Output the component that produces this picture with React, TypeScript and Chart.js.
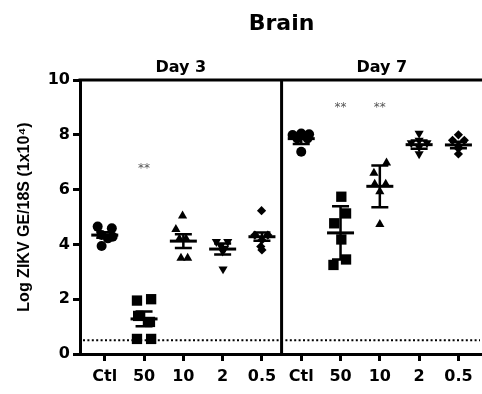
import React, { useEffect, useRef } from 'react';
import { Chart, registerables } from 'chart.js';

Chart.register(...registerables);

// ---- text ----
const chartTitle = 'Brain';
const dayLabels = ['Day 3', 'Day 7'];
const doseLabels = ['Ctl', '50', '10', '2', '0.5'];
const yAxisTitle = 'Log ZIKV GE/18S (1x10\u2074)';
const yTicks = [0, 2, 4, 6, 8, 10];
const detectionLimit = 0.5;

// ---- individual values (one list per dose group) ----
const day3Values = [
  [4.65, 4.59, 4.34, 4.28, 4.22, 3.94],
  [1.95, 2.0, 1.39, 1.17, 0.55, 0.55],
  [5.04, 4.55, 4.2, 4.2, 3.5, 3.5],
  [4.1, 4.1, 3.95, 3.85, 3.75, 3.1],
  [5.23, 4.34, 4.34, 4.16, 3.92, 3.8],
];
const day7Values = [
  [7.99, 8.05, 8.02, 7.87, 7.87, 7.38],
  [5.74, 5.13, 4.77, 4.18, 3.45, 3.25],
  [6.98, 6.6, 6.2, 6.2, 5.93, 4.73],
  [8.05, 7.8, 7.7, 7.7, 7.55, 7.3],
  [8.0, 7.8, 7.8, 7.6, 7.5, 7.3],
];
// horizontal scatter of the points within a group (category units)
const day3Jitter = [
  [-0.18, 0.18, -0.08, 0.2, 0.08, -0.08],
  [-0.18, 0.18, -0.15, 0.15, -0.18, 0.18],
  [-0.02, -0.19, -0.1, 0.07, -0.06, 0.11],
  [-0.16, 0.13, -0.05, 0.05, 0.0, 0.01],
  [-0.01, -0.18, 0.15, 0.0, -0.03, 0.0],
];
const day7Jitter = [
  [-0.22, 0.0, 0.2, -0.1, 0.16, 0.0],
  [0.02, 0.14, -0.16, 0.02, 0.14, -0.18],
  [0.17, -0.15, -0.13, 0.15, 0.0, 0.0],
  [0.0, 0.0, -0.2, 0.2, 0.0, 0.0],
  [0.0, -0.15, 0.15, 0.0, 0.0, 0.0],
];

// ---- mean and error bars ----
const day3Means = [4.34, 1.28, 4.12, 3.83, 4.28];
const day3Errors = [0.1, 0.27, 0.25, 0.2, 0.15];
const day7Means = [7.86, 4.42, 6.12, 7.64, 7.63];
const day7Errors = [0.2, 0.97, 0.76, 0.15, 0.12];

// ---- significance marks ----
const day3Sig = ['', '**', '', '', ''];
const day7Sig = ['', '**', '**', '', ''];
const day3SigHeight = [0, 6.75, 0, 0, 0];
const day7SigHeight = [0, 9.0, 9.0, 0, 0];

// ---- marker styles per dose ----
const markerStyles = ['circle', 'rect', 'triangle', 'triangle', 'rectRot'];
const markerRotation = [0, 0, 0, 180, 0];
const markerRadius = [5, 7.3, 5.3, 5.3, 4.6];

const allValues = [...day3Values, ...day7Values];
const allJitter = [...day3Jitter, ...day7Jitter];
const allMeans = [...day3Means, ...day7Means];
const allErrors = [...day3Errors, ...day7Errors];
const allSig = [...day3Sig, ...day7Sig];
const allSigHeight = [...day3SigHeight, ...day7SigHeight];
const xTickLabels = [...doseLabels, ...doseLabels];
const xPositions = xTickLabels.map((_, i) => i);

const BOLD = 'bold 16px "DejaVu Sans"';

const overlayPlugin = {
  id: 'prismOverlay',
  afterDatasetsDraw(chart: any) {
    const { ctx, chartArea } = chart;
    const x = chart.scales.x;
    const y = chart.scales.y;
    ctx.save();
    ctx.strokeStyle = '#000';
    ctx.fillStyle = '#000';

    // detection limit
    const yl = y.getPixelForValue(detectionLimit);
    ctx.lineWidth = 2;
    ctx.setLineDash([2, 2.4]);
    ctx.beginPath();
    ctx.moveTo(chartArea.left + 3, yl);
    ctx.lineTo(chartArea.right - 2, yl);
    ctx.stroke();
    ctx.setLineDash([]);

    // mean +/- error
    allMeans.forEach((m, i) => {
      const cx = x.getPixelForValue(i);
      const ym = y.getPixelForValue(m);
      const yt = y.getPixelForValue(m + allErrors[i]);
      const yb = y.getPixelForValue(m - allErrors[i]);
      ctx.lineWidth = 2.5;
      ctx.beginPath();
      ctx.moveTo(cx, yt);
      ctx.lineTo(cx, yb);
      ctx.moveTo(cx - 8.5, yt);
      ctx.lineTo(cx + 8.5, yt);
      ctx.moveTo(cx - 8.5, yb);
      ctx.lineTo(cx + 8.5, yb);
      ctx.stroke();
      ctx.lineWidth = 3;
      ctx.beginPath();
      ctx.moveTo(cx - 13.5, ym);
      ctx.lineTo(cx + 13.5, ym);
      ctx.stroke();
    });

    // frame: top line and day divider
    const xd = x.getPixelForValue(4.5);
    ctx.lineWidth = 3;
    ctx.beginPath();
    ctx.moveTo(chartArea.left - 1.5, chartArea.top);
    ctx.lineTo(chartArea.right, chartArea.top);
    ctx.moveTo(xd, chartArea.top);
    ctx.lineTo(xd, chartArea.bottom);
    ctx.stroke();

    // significance asterisks
    ctx.fillStyle = '#555';
    ctx.font = '12px "DejaVu Sans"';
    ctx.textAlign = 'center';
    ctx.textBaseline = 'middle';
    allSig.forEach((s, i) => {
      if (!s) return;
      ctx.fillText(s, x.getPixelForValue(i), y.getPixelForValue(allSigHeight[i]));
    });

    // titles
    ctx.fillStyle = '#000';
    ctx.textBaseline = 'alphabetic';
    ctx.font = 'bold 22px "DejaVu Sans"';
    ctx.fillText(chartTitle, xd, 29.5);
    ctx.font = BOLD;
    ctx.fillText(dayLabels[0], (chartArea.left + xd) / 2, chartArea.top - 8.5);
    ctx.fillText(dayLabels[1], (xd + chartArea.right) / 2, chartArea.top - 8.5);
    ctx.restore();
  },
};

export default function App() {
  const canvasRef = useRef<HTMLCanvasElement | null>(null);

  useEffect(() => {
    if (!canvasRef.current) return;
    const datasets = allValues.map((vals, gi) => {
      const d = gi % 5;
      return {
        label: `${dayLabels[Math.floor(gi / 5)]} ${doseLabels[d]}`,
        data: vals.map((v, k) => ({ x: gi + allJitter[gi][k], y: v })),
        pointStyle: markerStyles[d],
        rotation: markerRotation[d],
        pointRadius: markerRadius[d],
        pointBorderWidth: 0,
        backgroundColor: '#000',
        borderColor: '#000',
        showLine: false,
      };
    });

    const chart = new Chart(canvasRef.current, {
      type: 'scatter',
      data: { datasets } as any,
      options: {
        animation: false,
        responsive: false,
        devicePixelRatio: 1,
        layout: { autoPadding: false, padding: { top: 80, left: 0, right: 0, bottom: 0 } },
        plugins: {
          legend: { display: false },
          tooltip: { enabled: false },
          title: { display: false },
        },
        scales: {
          x: {
            type: 'linear',
            min: -0.63,
            max: 9.6,
            afterBuildTicks: (s: any) => {
              s.ticks = xPositions.map((v) => ({ value: v }));
            },
            afterFit: (s: any) => {
              s.height = 40;
            },
            border: { display: true, width: 3, color: '#000' },
            grid: {
              drawOnChartArea: false,
              drawTicks: true,
              tickLength: 7,
              tickWidth: 3,
              tickColor: '#000',
            },
            ticks: {
              autoSkip: false,
              maxRotation: 0,
              color: '#000',
              padding: 6,
              font: { family: '"DejaVu Sans"', size: 16, weight: 'bold' },
              callback: (v: any) => xTickLabels[v as number] ?? '',
            },
          },
          y: {
            min: 0,
            max: 10,
            afterBuildTicks: (s: any) => {
              s.ticks = yTicks.map((v) => ({ value: v }));
            },
            afterFit: (s: any) => {
              s.width = 80;
            },
            border: { display: true, width: 3, color: '#000' },
            grid: {
              drawOnChartArea: false,
              drawTicks: true,
              tickLength: 7,
              tickWidth: 3,
              tickColor: '#000',
            },
            ticks: {
              color: '#000',
              padding: 3,
              font: { family: '"DejaVu Sans"', size: 16, weight: 'bold' },
            },
            title: {
              display: true,
              text: yAxisTitle,
              color: '#000',
              font: { family: '"Liberation Sans"', size: 16, weight: 'bold' },
              padding: { top: 15, bottom: 0 },
            },
          },
        },
      } as any,
      plugins: [overlayPlugin],
    });
    return () => chart.destroy();
  }, []);

  return (
    <div style={{ position: 'fixed', left: 0, top: 0, width: 482, height: 394 }}>
      <canvas ref={canvasRef} width={482} height={394} style={{ display: 'block' }} />
    </div>
  );
}
